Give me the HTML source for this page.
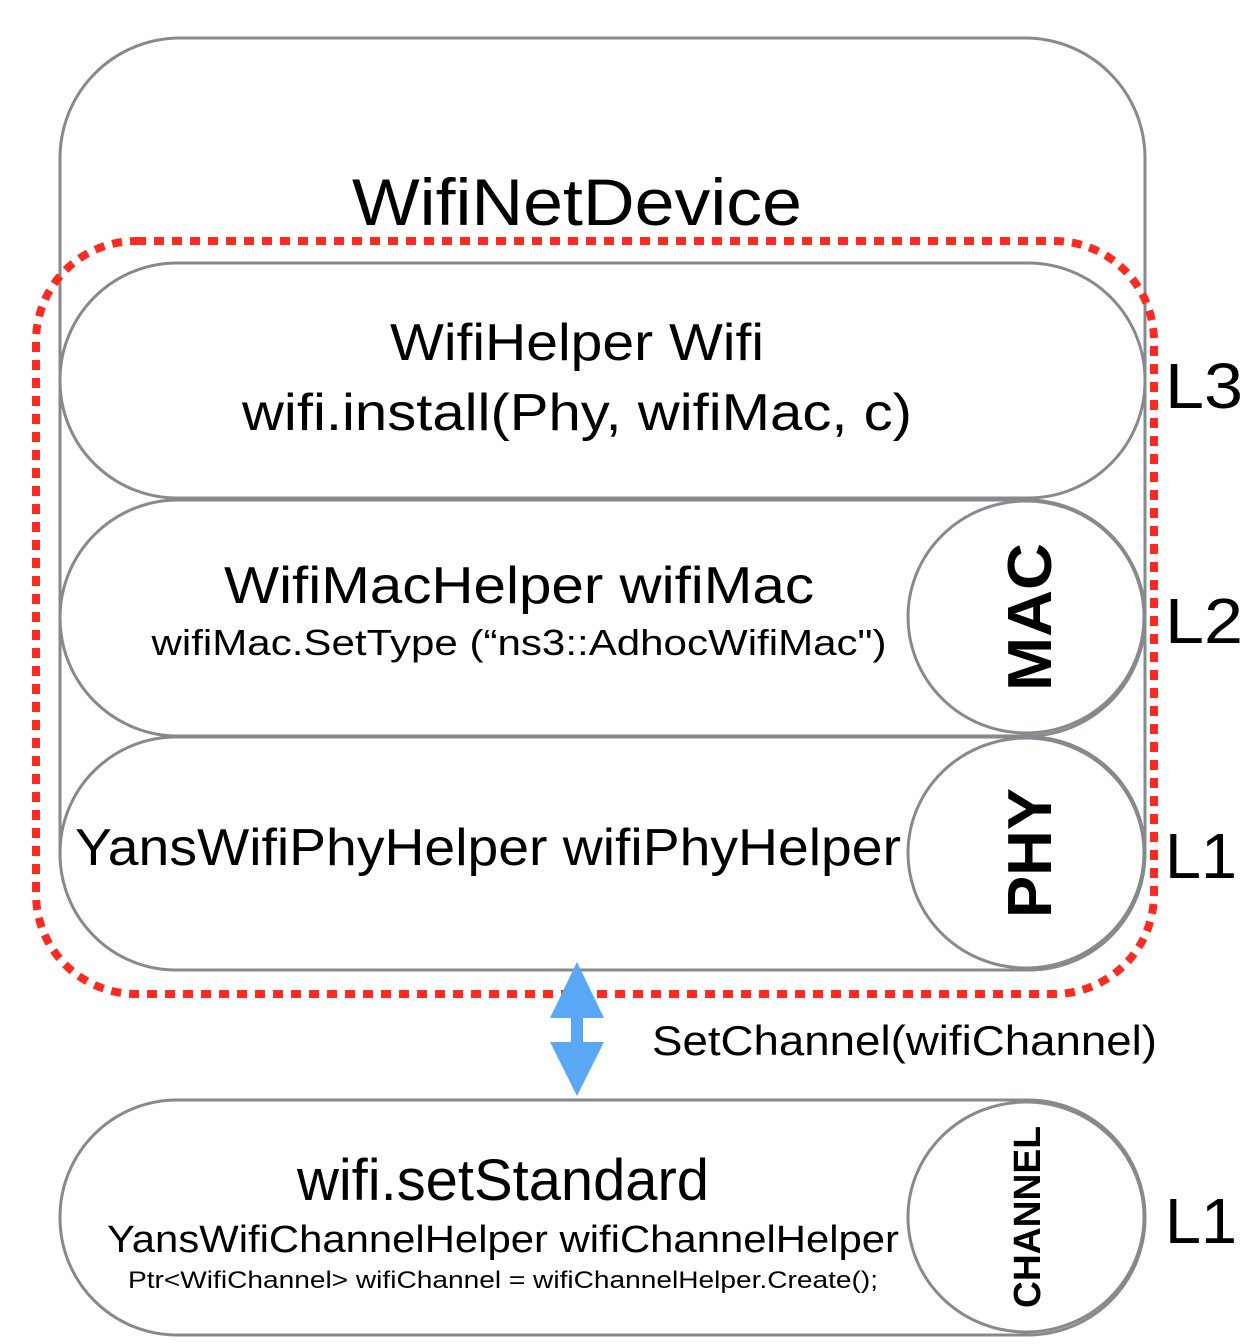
<!DOCTYPE html>
<html><head><meta charset="utf-8"><style>
html,body{margin:0;padding:0;background:#fff;}
svg{display:block;}
text{font-family:"Liberation Sans",sans-serif;fill:#000;}
</style></head><body>
<svg width="1250" height="1344" viewBox="0 0 1250 1344" xmlns="http://www.w3.org/2000/svg">
<g fill="#fff" stroke="#88898c" stroke-width="3">
<rect x="60" y="38" width="1085" height="932" rx="120" ry="120"/>
<rect x="60" y="263" width="1085" height="235" rx="117" ry="117"/>
<rect x="60" y="500" width="1085" height="236" rx="118" ry="118"/>
<rect x="60" y="737" width="1085" height="233" rx="116" ry="116"/>
<ellipse cx="1026" cy="617" rx="118" ry="116"/>
<ellipse cx="1026" cy="853" rx="118" ry="115"/>
<rect x="60" y="1100" width="1085" height="235" rx="117" ry="117"/>
<ellipse cx="1026" cy="1217" rx="118" ry="115"/>
</g>
<rect x="36" y="241" width="1118" height="753" rx="100" ry="100" fill="none" stroke="#ff2a1f" stroke-width="8" stroke-dasharray="10 8"/>
<g fill="#5aa8f5">
<polygon points="577,962 604,1018 550,1018"/>
<rect x="571" y="1016" width="12" height="28"/>
<polygon points="577,1096 604,1042 550,1042"/>
</g>
<text x="577" y="225" font-size="66" text-anchor="middle" textLength="450" lengthAdjust="spacingAndGlyphs">WifiNetDevice</text>
<text x="577" y="360" font-size="52" text-anchor="middle" textLength="374" lengthAdjust="spacingAndGlyphs">WifiHelper Wifi</text>
<text x="577" y="430" font-size="52" text-anchor="middle" textLength="670" lengthAdjust="spacingAndGlyphs">wifi.install(Phy, wifiMac, c)</text>
<text x="519" y="603" font-size="52" text-anchor="middle" textLength="590" lengthAdjust="spacingAndGlyphs">WifiMacHelper wifiMac</text>
<text x="519" y="655" font-size="36" text-anchor="middle" textLength="735" lengthAdjust="spacingAndGlyphs">wifiMac.SetType (“ns3::AdhocWifiMac")</text>
<text x="488" y="865" font-size="52" text-anchor="middle" textLength="826" lengthAdjust="spacingAndGlyphs">YansWifiPhyHelper wifiPhyHelper</text>
<text transform="translate(1051,617) rotate(-90)" font-size="62" font-weight="bold" text-anchor="middle" textLength="148" lengthAdjust="spacingAndGlyphs">MAC</text>
<text transform="translate(1051,853) rotate(-90)" font-size="62" font-weight="bold" text-anchor="middle" textLength="130" lengthAdjust="spacingAndGlyphs">PHY</text>
<text transform="translate(1040,1217) rotate(-90)" font-size="38" font-weight="bold" text-anchor="middle" textLength="182" lengthAdjust="spacingAndGlyphs">CHANNEL</text>
<text x="1165" y="408" font-size="64" textLength="78" lengthAdjust="spacingAndGlyphs">L3</text>
<text x="1165" y="643" font-size="64" textLength="78" lengthAdjust="spacingAndGlyphs">L2</text>
<text x="1165" y="878" font-size="64" textLength="72" lengthAdjust="spacingAndGlyphs">L1</text>
<text x="1165" y="1243" font-size="64" textLength="72" lengthAdjust="spacingAndGlyphs">L1</text>
<text x="652" y="1055" font-size="42" textLength="505" lengthAdjust="spacingAndGlyphs">SetChannel(wifiChannel)</text>
<text x="503" y="1200" font-size="58" text-anchor="middle" textLength="412" lengthAdjust="spacingAndGlyphs">wifi.setStandard</text>
<text x="503" y="1252" font-size="38" text-anchor="middle" textLength="792" lengthAdjust="spacingAndGlyphs">YansWifiChannelHelper wifiChannelHelper</text>
<text x="503" y="1288" font-size="24" text-anchor="middle" textLength="750" lengthAdjust="spacingAndGlyphs">Ptr&lt;WifiChannel&gt; wifiChannel = wifiChannelHelper.Create();</text>
</svg>
</body></html>
